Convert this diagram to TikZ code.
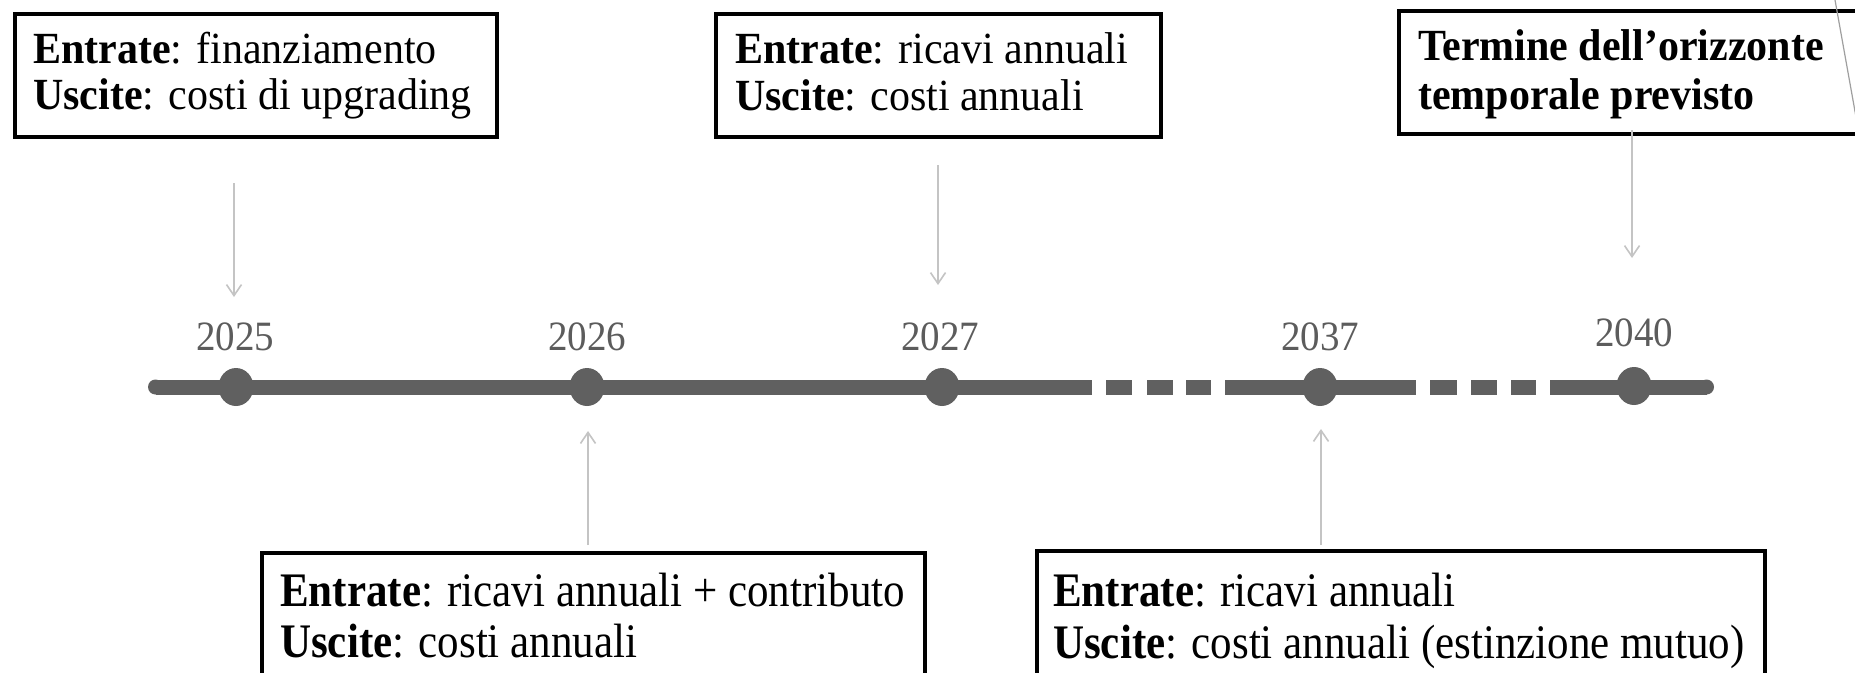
\documentclass[tikz,border=0pt]{standalone}
\usepackage{fontspec}
\setmainfont{Liberation Serif}
\usetikzlibrary{arrows.meta,shapes.geometric}
\definecolor{tl}{HTML}{606060}
\definecolor{arc}{HTML}{C4C4C4}
\definecolor{yrc}{HTML}{5C5C5C}
\begin{document}
\begin{tikzpicture}[x=1pt,y=-1pt,
  box/.style={draw=black, line width=4pt, inner sep=0pt, anchor=north west},
  txt/.style={anchor=base west, inner sep=0pt, font=\fontsize{42}{46}\selectfont},
  btxt/.style={anchor=base west, inner sep=0pt, font=\fontsize{43}{46}\selectfont},
  yrlab/.style={text=yrc, inner sep=0pt, font=\fontsize{39}{39}\selectfont},
  dot/.style={ellipse, fill=tl, inner sep=0pt, minimum width=35pt, minimum height=38pt},
  conn/.style={draw=arc, line width=1.6pt, -{Straight Barb[length=11pt,width=15pt,line width=1.6pt]}},
  tline/.style={draw=tl, line width=15pt}]
\clip (0,0) rectangle (1855,672);
\fill[white] (0,0) rectangle (1855,672);

% timeline
\draw[tline] (155.5,387) -- (1092,387);
\fill[tl] (155.5,387) circle (7.5);
\foreach \a/\b in {1106/1132,1147/1173,1186/1211,1430/1457,1471/1497,1511/1536}
  \draw[tline] (\a,387) -- (\b,387);
\draw[tline] (1225,387) -- (1416,387);
\draw[tline] (1550,387) -- (1706.5,387);
\fill[tl] (1706.5,387) circle (7.5);

\node[dot] (d2025) at (236,387) {};
\node[dot] (d2026) at (587,387) {};
\node[dot] (d2027) at (942,387) {};
\node[dot] (d2037) at (1320,387) {};
\node[dot] (d2040) at (1634,386) {};

\node[yrlab] (y2025) at (235,337) {\scalebox{1}[1.07]{2025}};
\node[yrlab] (y2026) at (587,337) {\scalebox{1}[1.07]{2026}};
\node[yrlab] (y2027) at (940,337) {\scalebox{1}[1.07]{2027}};
\node[yrlab] (y2037) at (1320,337) {\scalebox{1}[1.07]{2037}};
\node[yrlab] (y2040) at (1634,333) {\scalebox{1}[1.07]{2040}};

% boxes
\node[box, minimum width=482pt, minimum height=123pt] (b1) at (13,12) {};
\node[txt] (t1a) at (33,63) {\scalebox{1}[1.06]{\textbf{Entrate}: finanziamento}};
\node[txt] (t1b) at (33,109) {\scalebox{1}[1.06]{\textbf{Uscite}: costi di upgrading}};

\node[box, minimum width=445pt, minimum height=123pt] (b2) at (714,12) {};
\node[txt] (t2a) at (735,63) {\scalebox{1}[1.06]{\textbf{Entrate}: ricavi annuali}};
\node[txt] (t2b) at (735,110) {\scalebox{1}[1.06]{\textbf{Uscite}: costi annuali}};

\node[box, minimum width=480pt, minimum height=123pt] (b3) at (1397,9) {};
\node[txt] (t3a) at (1418,60) {\scalebox{1}[1.06]{\textbf{Termine dell’orizzonte}}};
\node[txt] (t3b) at (1418,109) {\scalebox{1}[1.06]{\textbf{temporale previsto}}};

\node[box, minimum width=663pt, minimum height=160pt] (b4) at (260,551) {};
\node[btxt] (t4a) at (280,606) {\scalebox{1}[1.12]{\textbf{Entrate}: ricavi annuali + contributo}};
\node[btxt] (t4b) at (280,657) {\scalebox{1}[1.12]{\textbf{Uscite}: costi annuali}};

\node[box, minimum width=728pt, minimum height=160pt] (b5) at (1035,549) {};
\node[btxt] (t5a) at (1053,606) {\scalebox{1}[1.12]{\textbf{Entrate}: ricavi annuali}};
\node[btxt] (t5b) at (1053,658) {\scalebox{1}[1.12]{\textbf{Uscite}: costi annuali (estinzione mutuo)}};

% connectors
\coordinate (a1s) at (234,183); \coordinate (a1e) at (234,297);
\coordinate (a2s) at (938,165); \coordinate (a2e) at (938,285);
\coordinate (a3s) at (1632,130); \coordinate (a3e) at (1632,258);
\coordinate (a4s) at (588,545); \coordinate (a4e) at (588,431);
\coordinate (a5s) at (1321,545); \coordinate (a5e) at (1321,429);
\draw[conn] (a1s) -- (a1e);
\draw[conn] (a2s) -- (a2e);
\draw[conn] (a3s) -- (a3e);
\draw[conn] (a4s) -- (a4e);
\draw[conn] (a5s) -- (a5e);

% stray diagonal line at the top right
\draw[draw=gray!75, line width=1.2pt] (1835,0) -- (1856,117);
\end{tikzpicture}
\end{document}
